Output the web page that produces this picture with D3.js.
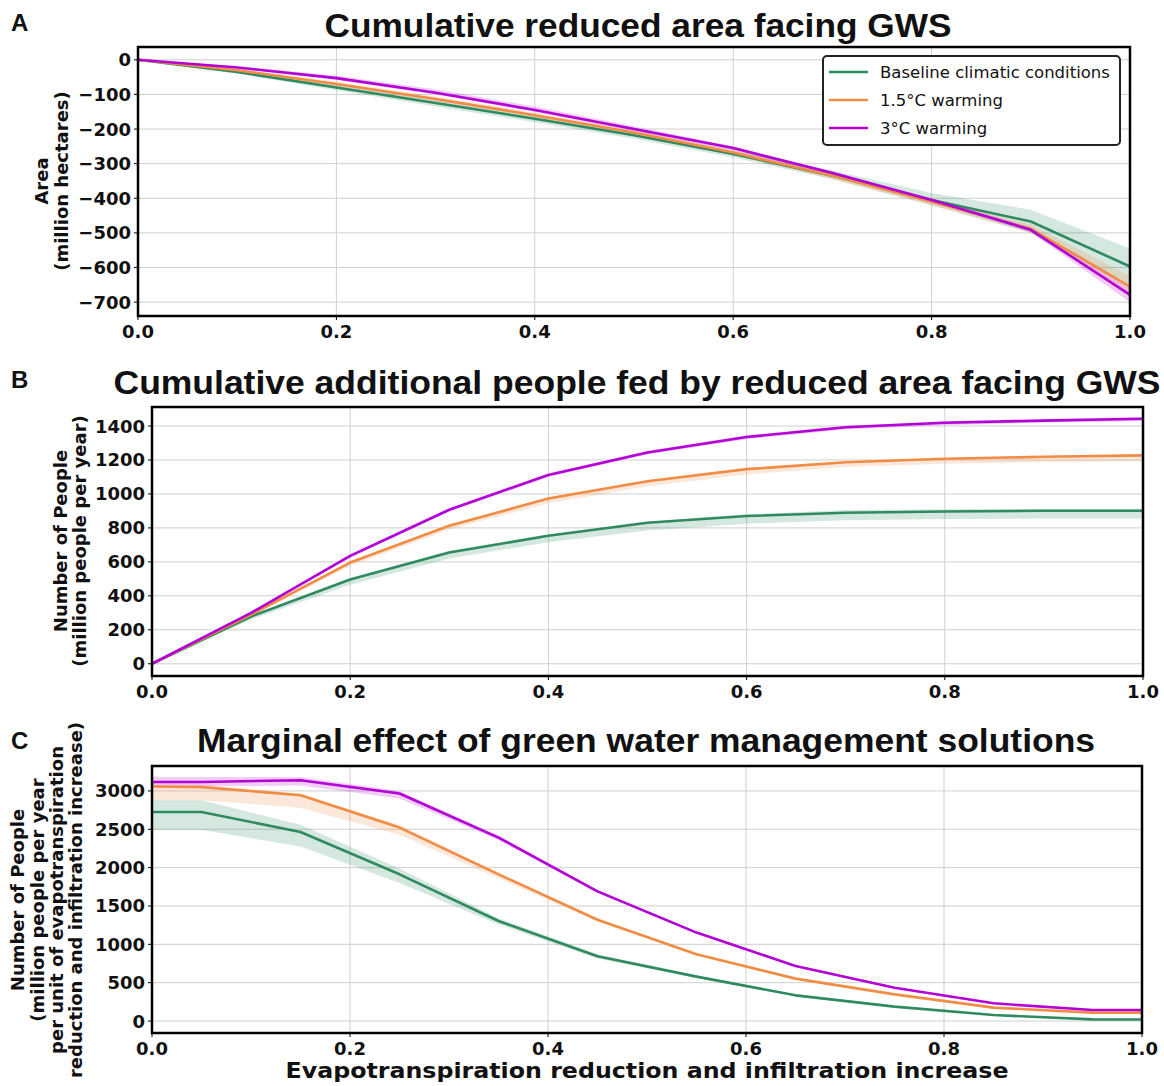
<!DOCTYPE html>
<html>
<head>
<meta charset="utf-8">
<script src="https://cdn.jsdelivr.net/npm/d3@7"></script>
<style>
  body { margin: 0; background: #fff; }
  svg text { fill: #111; }
  .tick-label { font-family: "DejaVu Sans", sans-serif; font-weight: bold; font-size: 18px; }
  .ylab { font-family: "DejaVu Sans", sans-serif; font-weight: bold; font-size: 18px; }
  .title { font-family: "Liberation Sans", Arial, sans-serif; font-weight: bold; font-size: 34px; }
  .letter { font-family: "Liberation Sans", Arial, sans-serif; font-weight: bold; font-size: 24px; }
</style>
</head>
<body>
<div id="vis"></div>
<script>
// ---- data ----
const seriesNames = ["Baseline climatic conditions", "1.5°C warming", "3°C warming"];
const seriesColors = ["#2f8a5f", "#f08c44", "#b300d6"];

// panel A: cumulative reduced area (million ha)
const xA = [0, 0.1, 0.2, 0.3, 0.4, 0.5, 0.6, 0.7, 0.8, 0.9, 1.0];
const areaBase   = [0, -35, -80, -125, -170, -218, -272, -335, -405, -467, -597];
const areaBaseHi = [0, -30, -72, -115, -160, -208, -262, -320, -385, -433, -545];
const areaBaseLo = [0, -40, -88, -135, -180, -228, -282, -345, -420, -500, -650];
const area15   = [0, -30, -70, -113, -160, -210, -268, -335, -410, -488, -655];
const area15Hi = [0, -26, -63, -105, -152, -202, -260, -326, -400, -475, -625];
const area15Lo = [0, -34, -77, -121, -168, -218, -276, -344, -420, -500, -680];
const area3   = [0, -22, -53, -95, -145, -200, -255, -327, -405, -491, -679];
const area3Hi = [0, -18, -46, -85, -135, -192, -250, -322, -400, -484, -660];
const area3Lo = [0, -25, -58, -100, -150, -206, -262, -333, -411, -498, -700];

// panel B: cumulative additional people fed (million people / yr)
const xB = [0, 0.1, 0.2, 0.3, 0.4, 0.5, 0.6, 0.7, 0.8, 0.9, 1.0];
const peopleBase   = [0, 278, 496, 655, 754, 830, 870, 889, 897, 901, 901];
const peopleBaseHi = [0, 285, 505, 665, 762, 838, 880, 905, 910, 912, 912];
const peopleBaseLo = [0, 260, 465, 620, 715, 785, 825, 845, 852, 855, 855];
const people15   = [0, 290, 596, 813, 973, 1075, 1146, 1187, 1207, 1219, 1227];
const people15Hi = [0, 295, 602, 820, 980, 1082, 1152, 1192, 1212, 1224, 1232];
const people15Lo = [0, 280, 575, 790, 945, 1045, 1115, 1158, 1178, 1188, 1192];
const people3   = [0, 300, 635, 907, 1112, 1244, 1335, 1393, 1419, 1432, 1443];
const people3Hi = [0, 305, 645, 917, 1122, 1254, 1345, 1402, 1428, 1442, 1452];
const people3Lo = [0, 295, 625, 897, 1100, 1232, 1322, 1380, 1405, 1420, 1428];

// panel C: marginal effect
const xC = [0, 0.05, 0.15, 0.25, 0.35, 0.45, 0.55, 0.65, 0.75, 0.85, 0.95, 1.0];
const margBase   = [2726, 2726, 2465, 1913, 1304, 845, 579, 335, 188, 78, 22, 20];
const margBaseHi = [2880, 2880, 2560, 1990, 1340, 870, 595, 348, 198, 85, 28, 25];
const margBaseLo = [2490, 2490, 2275, 1800, 1260, 815, 560, 322, 178, 70, 16, 15];
const marg15   = [3057, 3050, 2944, 2522, 1913, 1320, 870, 553, 348, 175, 110, 110];
const marg15Hi = [3085, 3080, 2965, 2560, 1935, 1335, 882, 562, 356, 182, 116, 116];
const marg15Lo = [2880, 2880, 2780, 2430, 1860, 1295, 852, 540, 338, 166, 102, 102];
const marg3   = [3117, 3117, 3140, 2966, 2392, 1690, 1153, 717, 435, 231, 144, 144];
const marg3Hi = [3180, 3180, 3180, 3000, 2420, 1710, 1168, 728, 444, 238, 150, 150];
const marg3Lo = [3060, 3060, 3070, 2900, 2360, 1668, 1138, 705, 425, 224, 138, 138];

const xTicks = [0, 0.2, 0.4, 0.6, 0.8, 1.0];
const yTicksA = [0, -100, -200, -300, -400, -500, -600, -700];
const yTicksB = [0, 200, 400, 600, 800, 1000, 1200, 1400];
const yTicksC = [0, 500, 1000, 1500, 2000, 2500, 3000];

const width = 1164, height = 1086;

const svg = d3.select("#vis").append("svg")
  .attr("width", width).attr("height", height);

// build one panel
function panel(cfg) {
  const x = d3.scaleLinear().domain([0, 1]).range([cfg.left, cfg.right]);
  const y = d3.scaleLinear().domain(cfg.yDomain).range([cfg.bottom, cfg.top]);
  const g = svg.append("g");

  // grid
  g.selectAll(".vgrid").data(xTicks.slice(1, -1)).enter().append("line")
    .attr("x1", d => x(d)).attr("x2", d => x(d))
    .attr("y1", cfg.top).attr("y2", cfg.bottom)
    .attr("stroke", "#cfcfcf").attr("stroke-width", 1);
  g.selectAll(".hgrid").data(cfg.yTicks).enter().append("line")
    .attr("x1", cfg.left).attr("x2", cfg.right)
    .attr("y1", d => y(d)).attr("y2", d => y(d))
    .attr("stroke", "#cfcfcf").attr("stroke-width", 1);

  // bands then lines
  cfg.series.forEach((s, i) => {
    const pts = cfg.xs.map((xv, j) => ({ x: xv, v: s.v[j], lo: s.lo[j], hi: s.hi[j] }));
    const area = d3.area().x(d => x(d.x)).y0(d => y(d.lo)).y1(d => y(d.hi));
    g.append("path").attr("d", area(pts))
      .attr("fill", seriesColors[i]).attr("fill-opacity", 0.2).attr("stroke", "none");
  });
  cfg.series.forEach((s, i) => {
    const pts = cfg.xs.map((xv, j) => ({ x: xv, v: s.v[j] }));
    const line = d3.line().x(d => x(d.x)).y(d => y(d.v));
    g.append("path").attr("d", line(pts))
      .attr("fill", "none").attr("stroke", seriesColors[i])
      .attr("stroke-width", 2.6).attr("stroke-linejoin", "round");
  });

  // frame
  g.append("rect")
    .attr("x", cfg.left).attr("y", cfg.top)
    .attr("width", cfg.right - cfg.left).attr("height", cfg.bottom - cfg.top)
    .attr("fill", "none").attr("stroke", "#000").attr("stroke-width", 2.5);

  // small tick marks
  g.selectAll(".ytm").data(cfg.yTicks).enter().append("line")
    .attr("x1", cfg.left - 4).attr("x2", cfg.left)
    .attr("y1", d => y(d)).attr("y2", d => y(d))
    .attr("stroke", "#000").attr("stroke-width", 1);
  g.selectAll(".xtm").data(xTicks).enter().append("line")
    .attr("x1", d => x(d)).attr("x2", d => x(d))
    .attr("y1", cfg.bottom).attr("y2", cfg.bottom + 4)
    .attr("stroke", "#000").attr("stroke-width", 1);

  // tick labels
  g.selectAll(".xt").data(xTicks).enter().append("text")
    .attr("class", "tick-label")
    .attr("x", d => x(d)).attr("y", cfg.bottom + 22)
    .attr("text-anchor", "middle")
    .text(d3.format(".1f"));
  g.selectAll(".yt").data(cfg.yTicks).enter().append("text")
    .attr("class", "tick-label")
    .attr("x", cfg.left - 7).attr("y", d => y(d)).attr("dy", "0.36em")
    .attr("text-anchor", "end")
    .text(d => d < 0 ? "\u2212" + Math.abs(d) : d);

  // title + panel letter
  g.append("text").attr("class", "title")
    .attr("x", cfg.titleX).attr("y", cfg.titleY)
    .attr("text-anchor", "middle")
    .attr("textLength", cfg.titleW).attr("lengthAdjust", "spacingAndGlyphs")
    .text(cfg.title);
  g.append("text").attr("class", "letter")
    .attr("x", 11).attr("y", cfg.letterY).text(cfg.letter);

  // y label lines
  cfg.ylab.forEach((t, k) => {
    g.append("text").attr("class", "ylab")
      .attr("transform", `translate(${cfg.ylabX[k]},${cfg.ylabY}) rotate(-90)`)
      .attr("text-anchor", "middle").attr("dy", "0.36em")
      .text(t);
  });
  return { x, y };
}

panel({
  left: 138, right: 1130, top: 47, bottom: 316,
  yDomain: [-740, 37], yTicks: yTicksA, xs: xA,
  series: [
    { v: areaBase, lo: areaBaseLo, hi: areaBaseHi },
    { v: area15, lo: area15Lo, hi: area15Hi },
    { v: area3, lo: area3Lo, hi: area3Hi }
  ],
  title: "Cumulative reduced area facing GWS", titleX: 638, titleY: 37, titleW: 627,
  letter: "A", letterY: 31,
  ylab: ["Area", "(million hectares)"], ylabX: [42, 62], ylabY: 181
});

panel({
  left: 152, right: 1143, top: 407, bottom: 676,
  yDomain: [-72, 1512], yTicks: yTicksB, xs: xB,
  series: [
    { v: peopleBase, lo: peopleBaseLo, hi: peopleBaseHi },
    { v: people15, lo: people15Lo, hi: people15Hi },
    { v: people3, lo: people3Lo, hi: people3Hi }
  ],
  title: "Cumulative additional people fed by reduced area facing GWS", titleX: 637, titleY: 394, titleW: 1047,
  letter: "B", letterY: 388,
  ylab: ["Number of People", "(million people per year)"], ylabX: [61, 80], ylabY: 541
});

panel({
  left: 152, right: 1142, top: 766, bottom: 1033,
  yDomain: [-156, 3325], yTicks: yTicksC, xs: xC,
  series: [
    { v: margBase, lo: margBaseLo, hi: margBaseHi },
    { v: marg15, lo: marg15Lo, hi: marg15Hi },
    { v: marg3, lo: marg3Lo, hi: marg3Hi }
  ],
  title: "Marginal effect of green water management solutions", titleX: 646, titleY: 752, titleW: 898,
  letter: "C", letterY: 749,
  ylab: ["Number of People", "(million people per year", "per unit of evapotranspiration", "reduction and infiltration increase)"],
  ylabX: [18, 38, 57, 76], ylabY: 900
});

// x axis label
svg.append("text")
  .attr("x", 647).attr("y", 1078)
  .attr("text-anchor", "middle")
  .attr("textLength", 723).attr("lengthAdjust", "spacingAndGlyphs")
  .style("font-family", "DejaVu Sans, sans-serif")
  .style("font-weight", "bold").style("font-size", "22px")
  .text("Evapotranspiration reduction and infiltration increase");

// legend (panel A)
const legend = svg.append("g");
legend.append("rect")
  .attr("x", 823).attr("y", 56).attr("width", 297).attr("height", 89)
  .attr("rx", 4).attr("fill", "#fff").attr("stroke", "#222").attr("stroke-width", 2);
seriesNames.forEach((name, i) => {
  const yy = 72 + i * 28;
  legend.append("line")
    .attr("x1", 829).attr("x2", 868).attr("y1", yy).attr("y2", yy)
    .attr("stroke", seriesColors[i]).attr("stroke-width", 2.6);
  legend.append("text")
    .attr("x", 880).attr("y", yy).attr("dy", "0.36em")
    .style("font-family", "DejaVu Sans, sans-serif").style("font-size", "16.5px")
    .text(name);
});
</script>
</body>
</html>
